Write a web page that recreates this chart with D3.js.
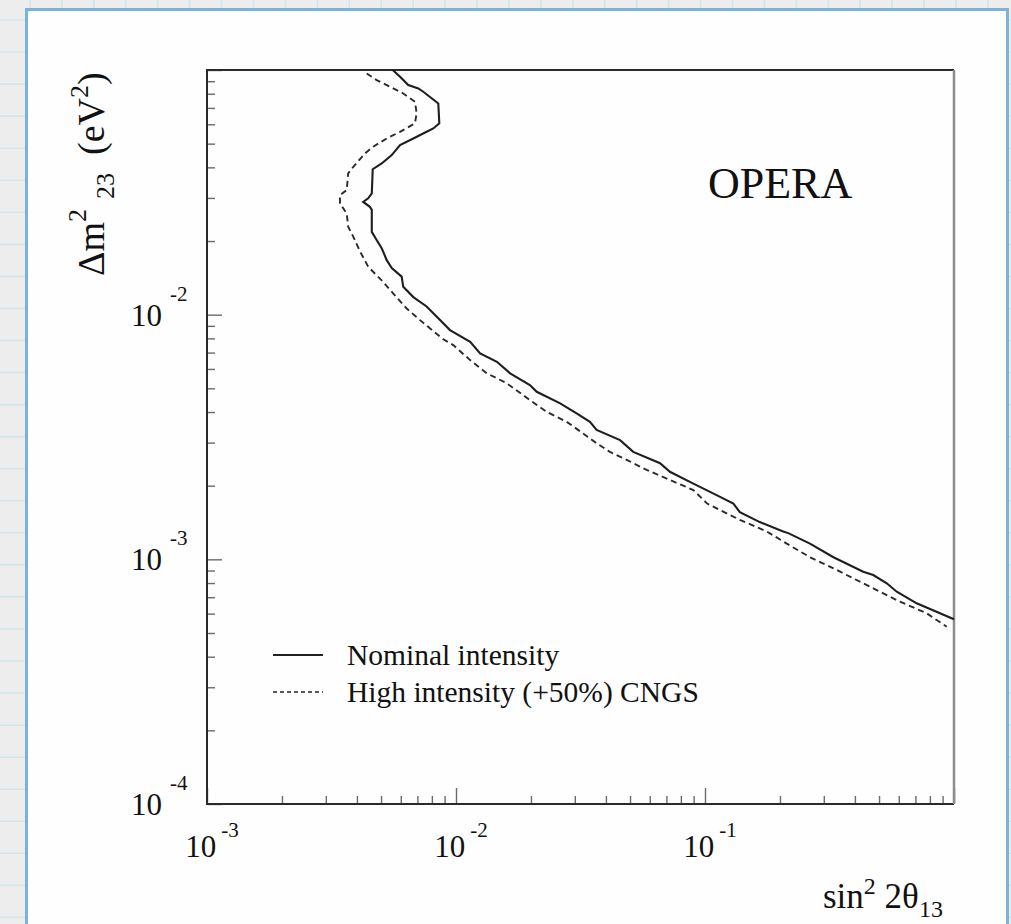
<!DOCTYPE html>
<html>
<head>
<meta charset="utf-8">
<script src="https://cdn.jsdelivr.net/npm/d3@7"></script>
<style>
  html, body { margin: 0; padding: 0; background: #ededed; }
  svg { display: block; }
  text { font-family: "Liberation Serif", "Times New Roman", serif; fill: #111; }
</style>
</head>
<body>
<script>
// Sensitivity contours: sin^2(2 theta_13) vs Delta m^2_23 (eV^2)
const nominalSin2 = [5.57e-3, 5.96e-3, 6.43e-3, 7.06e-3, 7.39e-3, 8.49e-3, 8.57e-3, 8.11e-3, 7.62e-3, 6.74e-3,
  5.96e-3, 5.52e-3, 5.03e-3, 4.63e-3, 4.59e-3, 4.44e-3, 4.24e-3, 4.51e-3, 4.59e-3, 4.59e-3,
  4.80e-3, 5.03e-3, 5.27e-3, 5.52e-3, 6.05e-3, 6.14e-3, 6.74e-3, 7.62e-3, 8.49e-3, 9.46e-3,
  1.14e-2, 1.25e-2, 1.46e-2, 1.65e-2, 1.98e-2, 2.11e-2, 2.62e-2, 3.05e-2, 3.45e-2, 3.67e-2,
  4.56e-2, 5.15e-2, 6.60e-2, 7.23e-2, 8.98e-2, 0.115, 0.130, 0.138, 0.166, 0.206,
  0.216, 0.264, 0.328, 0.432, 0.474, 0.537, 0.589, 0.708, 1.0];
const nominalDm2 = [1.0e-1, 9.38e-2, 8.68e-2, 8.41e-2, 8.15e-2, 7.30e-2, 6.05e-2, 5.77e-2, 5.59e-2, 5.25e-2,
  4.93e-2, 4.49e-2, 4.15e-2, 3.93e-2, 3.13e-2, 2.99e-2, 2.89e-2, 2.76e-2, 2.68e-2, 2.18e-2,
  2.02e-2, 1.87e-2, 1.67e-2, 1.55e-2, 1.43e-2, 1.30e-2, 1.18e-2, 1.08e-2, 9.66e-3, 8.65e-3,
  7.75e-3, 6.95e-3, 6.42e-3, 5.76e-3, 5.16e-3, 4.84e-3, 4.34e-3, 3.95e-3, 3.65e-3, 3.38e-3,
  3.07e-3, 2.75e-3, 2.47e-3, 2.28e-3, 2.04e-3, 1.80e-3, 1.69e-3, 1.56e-3, 1.42e-3, 1.30e-3,
  1.28e-3, 1.16e-3, 1.02e-3, 8.90e-4, 8.63e-4, 7.98e-4, 7.37e-4, 6.61e-4, 5.69e-4];

const highSin2 = [4.38e-3, 4.80e-3, 5.43e-3, 6.14e-3, 6.84e-3, 6.95e-3, 6.84e-3, 5.96e-3, 5.27e-3, 4.65e-3,
  4.31e-3, 3.87e-3, 3.69e-3, 3.64e-3, 3.42e-3, 3.42e-3, 3.64e-3, 3.69e-3, 3.87e-3, 4.12e-3,
  4.44e-3, 5.03e-3, 5.60e-3, 6.34e-3, 7.17e-3, 8.89e-3, 9.75e-3, 1.14e-2, 1.33e-2, 1.60e-2,
  1.98e-2, 2.31e-2, 2.78e-2, 3.24e-2, 3.67e-2, 4.15e-2, 4.85e-2, 5.83e-2, 7.23e-2, 8.98e-2,
  0.102, 0.115, 0.138, 0.177, 0.219, 0.264, 0.328, 0.394, 0.489, 0.607, 0.777, 0.935];
const highDm2 = [9.68e-2, 9.09e-2, 8.54e-2, 8.02e-2, 7.42e-2, 6.65e-2, 6.05e-2, 5.59e-2, 5.25e-2, 4.86e-2,
  4.56e-2, 4.02e-2, 3.78e-2, 3.23e-2, 3.08e-2, 2.85e-2, 2.59e-2, 2.29e-2, 2.08e-2, 1.81e-2,
  1.57e-2, 1.38e-2, 1.22e-2, 1.06e-2, 9.50e-3, 7.93e-3, 7.51e-3, 6.52e-3, 5.76e-3, 5.24e-3,
  4.48e-3, 4.01e-3, 3.65e-3, 3.27e-3, 2.98e-3, 2.75e-3, 2.55e-3, 2.32e-3, 2.11e-3, 1.92e-3,
  1.69e-3, 1.59e-3, 1.45e-3, 1.30e-3, 1.14e-3, 1.02e-3, 9.19e-4, 8.36e-4, 7.49e-4, 6.71e-4, 6.02e-4, 5.30e-4];

const xDomain = [1e-3, 1];
const yDomain = [1e-4, 1e-1];
const xTickLabels = [{v: 1e-3, exp: "-3"}, {v: 1e-2, exp: "-2"}, {v: 1e-1, exp: "-1"}];
const yTickLabels = [{v: 1e-4, exp: "-4"}, {v: 1e-3, exp: "-3"}, {v: 1e-2, exp: "-2"}];
const legendLabels = ["Nominal intensity", "High intensity (+50%) CNGS"];
const experimentLabel = "OPERA";

const W = 1011, H = 924;
const plot = {left: 207, right: 954, top: 70, bottom: 804};

const svg = d3.select("body").append("svg").attr("width", W).attr("height", H);

// page backdrop: light grey sheet with a faint blue grid
svg.append("rect").attr("width", W).attr("height", H).attr("fill", "#ededed");
const grid = svg.append("g").attr("stroke", "#d2e4ee").attr("stroke-width", 1.6);
for (let gx = 30; gx < W; gx += 31.93) grid.append("line").attr("x1", gx).attr("x2", gx).attr("y1", 0).attr("y2", H);
for (let gy = 20; gy < H; gy += 32.05) grid.append("line").attr("y1", gy).attr("y2", gy).attr("x1", 0).attr("x2", W);

// white card holding the figure
svg.append("rect").attr("x", 26.5).attr("y", 9.5).attr("width", 981).attr("height", H + 20)
  .attr("fill", "#fefefe").attr("stroke", "#7ab2d8").attr("stroke-width", 3);

const x = d3.scaleLog().domain(xDomain).range([plot.left, plot.right]);
const y = d3.scaleLog().domain(yDomain).range([plot.bottom, plot.top]);

function minorTicks(domain) {
  const out = [];
  const lo = Math.round(Math.log10(domain[0])), hi = Math.round(Math.log10(domain[1]));
  for (let e = lo; e < hi; e++) for (let m = 2; m <= 9; m++) out.push(m * Math.pow(10, e));
  return out;
}
function majorTicks(domain) {
  const out = [];
  const lo = Math.round(Math.log10(domain[0])), hi = Math.round(Math.log10(domain[1]));
  for (let e = lo; e <= hi; e++) out.push(Math.pow(10, e));
  return out;
}

function styleAxis(g) {
  g.select(".domain").remove();
  g.selectAll(".tick line").attr("stroke", "#6a6a6a").attr("stroke-width", 1.4);
  g.selectAll(".tick text").remove();
}

// x axis ticks pointing into the plot
svg.append("g").attr("transform", `translate(0,${plot.bottom})`)
  .call(d3.axisBottom(x).tickValues(minorTicks(xDomain)).tickSize(-8).tickFormat(""))
  .call(styleAxis);
svg.append("g").attr("transform", `translate(0,${plot.bottom})`)
  .call(d3.axisBottom(x).tickValues(majorTicks(xDomain)).tickSize(-16).tickFormat(""))
  .call(styleAxis);

// y axis ticks pointing into the plot
svg.append("g").attr("transform", `translate(${plot.left},0)`)
  .call(d3.axisLeft(y).tickValues(minorTicks(yDomain)).tickSize(-8).tickFormat(""))
  .call(styleAxis);
svg.append("g").attr("transform", `translate(${plot.left},0)`)
  .call(d3.axisLeft(y).tickValues(majorTicks(yDomain)).tickSize(-15).tickFormat(""))
  .call(styleAxis);

// frame
const frame = svg.append("g").attr("fill", "none");
frame.append("path")
  .attr("d", `M${plot.right},${plot.top}H${plot.left}V${plot.bottom}H${plot.right}`)
  .attr("stroke", "#2a2a2a").attr("stroke-width", 2);
frame.append("line").attr("x1", plot.right).attr("x2", plot.right).attr("y1", plot.top).attr("y2", plot.bottom)
  .attr("stroke", "#8c8c8c").attr("stroke-width", 2.5);

// tick labels as powers of ten
const xl = svg.append("g").selectAll("text").data(xTickLabels).join("text")
  .attr("x", d => x(d.v) + 5).attr("y", plot.bottom + 53)
  .attr("text-anchor", "middle").attr("font-size", 31);
xl.append("tspan").text("10");
xl.append("tspan").attr("dx", 5).attr("dy", -20).attr("font-size", 21).text(d => d.exp);

const yl = svg.append("g").selectAll("text").data(yTickLabels).join("text")
  .attr("x", 131).attr("y", d => y(d.v) + 11).attr("font-size", 31);
yl.append("tspan").text("10");
yl.append("tspan").attr("dx", 8).attr("dy", -25).attr("font-size", 21).text(d => d.exp);

// axis titles
const xt = svg.append("text").attr("x", 823).attr("y", 908).attr("font-size", 35);
xt.append("tspan").text("sin");
xt.append("tspan").attr("dy", -14).attr("font-size", 24).text("2");
xt.append("tspan").attr("dy", 14).text(" 2θ");
xt.append("tspan").attr("dy", 9).attr("font-size", 24).text("13");

const yt = svg.append("text").attr("transform", "translate(104,276) rotate(-90)").attr("font-size", 38);
yt.append("tspan").text("Δm");
yt.append("tspan").attr("dy", -18).attr("font-size", 26).text("2");
yt.append("tspan").attr("dx", 10).attr("dy", 28).attr("font-size", 26).text("23");
yt.append("tspan").attr("dx", 18).attr("dy", -10).text("(eV");
yt.append("tspan").attr("dy", -16).attr("font-size", 26).text("2");
yt.append("tspan").attr("dy", 16).text(")");

// contours
const line = d3.line().x(d => x(d[0])).y(d => y(d[1]));
const nominal = d3.zip(nominalSin2, nominalDm2);
const high = d3.zip(highSin2, highDm2);

svg.append("path").datum(high).attr("d", line).attr("fill", "none")
  .attr("stroke", "#2b2b2b").attr("stroke-width", 1.9).attr("stroke-dasharray", "6,4");
svg.append("path").datum(nominal).attr("d", line).attr("fill", "none")
  .attr("stroke", "#1e1e1e").attr("stroke-width", 2.1);

// experiment label
svg.append("text").attr("x", 708).attr("y", 198).attr("font-size", 44).text(experimentLabel);

// legend
const legendStyles = [{dash: null, w: 2}, {dash: "4,3", w: 1.4}];
const lg = svg.append("g");
legendLabels.forEach((lab, i) => {
  const ly = 655 + i * 37;
  lg.append("line").attr("x1", 273).attr("x2", 323).attr("y1", ly).attr("y2", ly)
    .attr("stroke", "#222").attr("stroke-width", legendStyles[i].w)
    .attr("stroke-dasharray", legendStyles[i].dash);
  lg.append("text").attr("x", 347).attr("y", ly + 10).attr("font-size", 29.5).text(lab);
});
</script>
</body>
</html>
